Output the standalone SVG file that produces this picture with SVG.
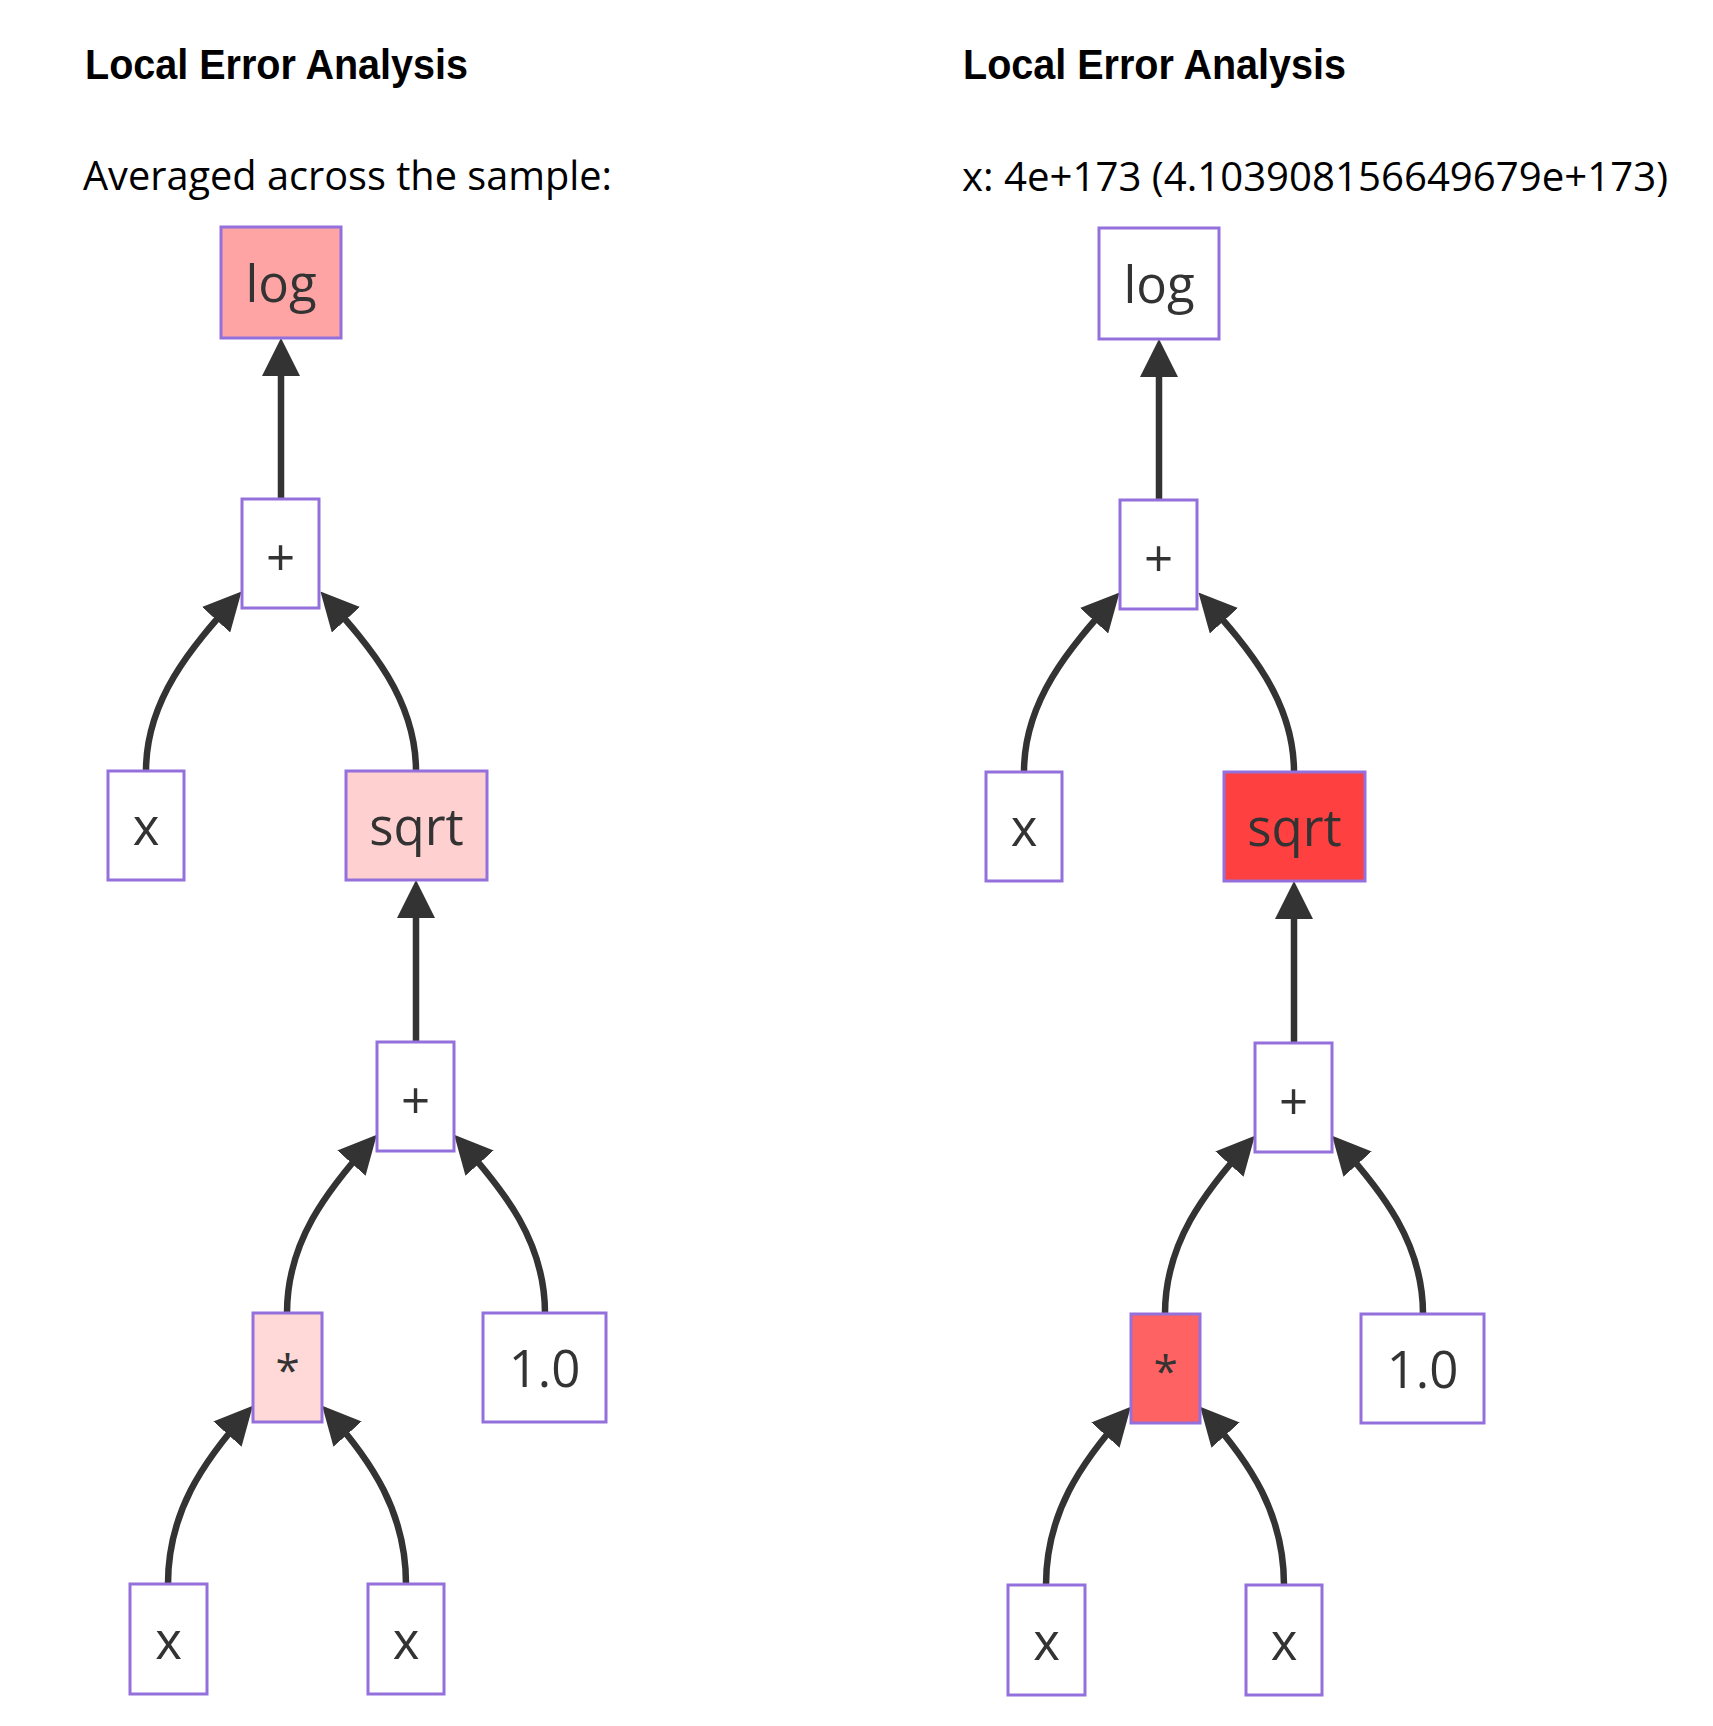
<svg xmlns="http://www.w3.org/2000/svg" width="1713" height="1726" viewBox="0 0 1713 1726">
<style>
.title{font-family:"Liberation Sans",Arial,sans-serif;font-weight:bold;font-size:42px;fill:#000}
.sub{font-family:"Open Sans","Liberation Sans",sans-serif;font-size:40px;fill:#000}
.box{stroke:#9370DB;stroke-width:3;fill:#fff}
.lbl{font-family:"Open Sans","Liberation Sans",sans-serif;font-size:51px;fill:#333;text-anchor:middle}
.star{font-size:44px}
.edge{fill:none;stroke:#333;stroke-width:6.5;marker-end:url(#arr)}
</style>
<defs>
<marker id="arr" viewBox="0 0 10 10" refX="7.9" refY="5" markerWidth="38" markerHeight="38" markerUnits="userSpaceOnUse" orient="auto"><path d="M0,0 L10,5 L0,10 z" fill="#333"/></marker>
</defs>
<rect width="1713" height="1726" fill="#fff"/>
<g id="headings">
<text class="title" x="85" y="79" textLength="383" lengthAdjust="spacingAndGlyphs">Local Error Analysis</text>
<text class="sub" x="83" y="190" textLength="529" lengthAdjust="spacingAndGlyphs">Averaged across the sample:</text>
<text class="title" x="963" y="79" textLength="383" lengthAdjust="spacingAndGlyphs">Local Error Analysis</text>
<text class="sub" x="962" y="191" textLength="706" lengthAdjust="spacingAndGlyphs">x: 4e+173 (4.103908156649679e+173)</text>
</g>
<g id="connectors">
<g id="edges-left">
<path class="edge" d="M281,499 L281,346"/>
<path class="edge" d="M146,771 C146,700 191,647.5 236.2,597.5"/>
<path class="edge" d="M416,771 C416,700 371,647.5 325.8,597.5"/>
<path class="edge" d="M416,1042 L416,888"/>
<path class="edge" d="M287,1313 C287,1242 326.5,1190.8 371.5,1140.8"/>
<path class="edge" d="M545,1313 C545,1242 504.5,1190.8 459.5,1140.8"/>
<path class="edge" d="M168,1584 C168,1513 202.5,1461.8 247.5,1411.8"/>
<path class="edge" d="M406,1584 C406,1513 372.5,1461.8 327.5,1411.8"/>
</g>
<g id="edges-right" transform="translate(878,1)">
<path class="edge" d="M281,499 L281,346"/>
<path class="edge" d="M146,771 C146,700 191,647.5 236.2,597.5"/>
<path class="edge" d="M416,771 C416,700 371,647.5 325.8,597.5"/>
<path class="edge" d="M416,1042 L416,888"/>
<path class="edge" d="M287,1313 C287,1242 326.5,1190.8 371.5,1140.8"/>
<path class="edge" d="M545,1313 C545,1242 504.5,1190.8 459.5,1140.8"/>
<path class="edge" d="M168,1584 C168,1513 202.5,1461.8 247.5,1411.8"/>
<path class="edge" d="M406,1584 C406,1513 372.5,1461.8 327.5,1411.8"/>
</g>
</g>
<g id="tree-left">
<g id="L-log"><rect class="box" x="221" y="227" width="120" height="111" style="fill:#ffa4a4"/><text class="lbl" x="281" y="302">log</text></g>
<g id="L-plus1"><rect class="box" x="242" y="499" width="77" height="109"/><text class="lbl" x="280.5" y="576">+</text></g>
<g id="L-x1"><rect class="box" x="108" y="771" width="76" height="109"/><text class="lbl" x="146" y="845">x</text></g>
<g id="L-sqrt"><rect class="box" x="346" y="771" width="141" height="109" style="fill:#ffd0d0"/><text class="lbl" x="416.5" y="845">sqrt</text></g>
<g id="L-plus2"><rect class="box" x="377" y="1042" width="77" height="109"/><text class="lbl" x="415.5" y="1119">+</text></g>
<g id="L-mul"><rect class="box" x="253" y="1313" width="69" height="109" style="fill:#ffd8d8"/><text class="lbl star" x="287.5" y="1386">*</text></g>
<g id="L-one"><rect class="box" x="483" y="1313" width="123" height="109"/><text class="lbl" x="544.5" y="1387">1.0</text></g>
<g id="L-x2"><rect class="box" x="130" y="1584" width="77" height="110"/><text class="lbl" x="168.5" y="1659">x</text></g>
<g id="L-x3"><rect class="box" x="368" y="1584" width="76" height="110"/><text class="lbl" x="406" y="1659">x</text></g>
</g>
<g id="tree-right" transform="translate(878,1)">
<g id="R-log"><rect class="box" x="221" y="227" width="120" height="111"/><text class="lbl" x="281" y="302">log</text></g>
<g id="R-plus1"><rect class="box" x="242" y="499" width="77" height="109"/><text class="lbl" x="280.5" y="576">+</text></g>
<g id="R-x1"><rect class="box" x="108" y="771" width="76" height="109"/><text class="lbl" x="146" y="845">x</text></g>
<g id="R-sqrt"><rect class="box" x="346" y="771" width="141" height="109" style="fill:#ff4040"/><text class="lbl" x="416.5" y="845">sqrt</text></g>
<g id="R-plus2"><rect class="box" x="377" y="1042" width="77" height="109"/><text class="lbl" x="415.5" y="1119">+</text></g>
<g id="R-mul"><rect class="box" x="253" y="1313" width="69" height="109" style="fill:#ff6262"/><text class="lbl star" x="287.5" y="1386">*</text></g>
<g id="R-one"><rect class="box" x="483" y="1313" width="123" height="109"/><text class="lbl" x="544.5" y="1387">1.0</text></g>
<g id="R-x2"><rect class="box" x="130" y="1584" width="77" height="110"/><text class="lbl" x="168.5" y="1659">x</text></g>
<g id="R-x3"><rect class="box" x="368" y="1584" width="76" height="110"/><text class="lbl" x="406" y="1659">x</text></g>
</g>
</svg>
